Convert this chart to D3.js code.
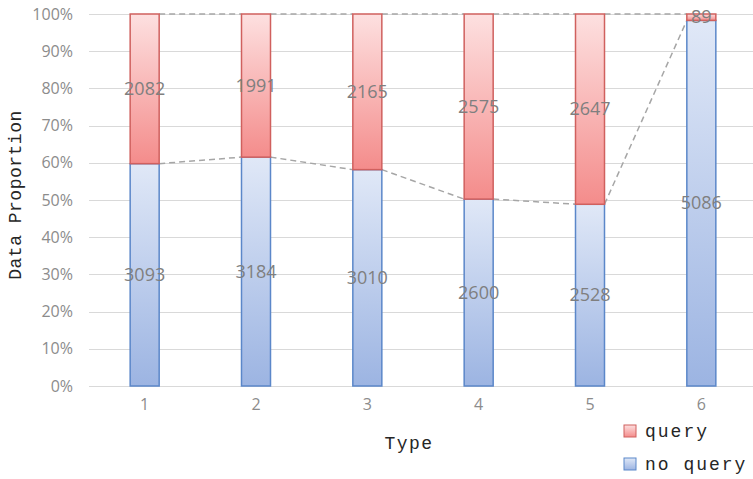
<!DOCTYPE html>
<html>
<head>
<meta charset="utf-8">
<script src="https://cdn.jsdelivr.net/npm/d3@7"></script>
<style>
	body { margin: 0; background: #fff; }
	svg { display: block; }
</style>
</head>
<body>
<svg id="chart" width="753" height="479"></svg>
<script>
// chart values
var types = ["1", "2", "3", "4", "5", "6"];
var noQuery = [3093, 3184, 3010, 2600, 2528, 5086];
var query = [2082, 1991, 2165, 2575, 2647, 89];
var yTicks = [0, 0.1, 0.2, 0.3, 0.4, 0.5, 0.6, 0.7, 0.8, 0.9, 1];
var seriesNames = ["query", "no query"];

var svg = d3.select("#chart");
var monoFont = "'Liberation Mono', 'DejaVu Sans Mono', monospace";
var sansFont = "'Open Sans', 'Liberation Sans', sans-serif";

// build rows with proportions
var rows = types.map(function(t, i) {
	var total = noQuery[i] + query[i];
	return { type: t, noQuery: noQuery[i], query: query[i], pNo: noQuery[i] / total };
});

var x = d3.scaleBand()
	.domain(types)
	.range([89, 757]);
var y = d3.scaleLinear()
	.domain([0, 1])
	.range([386, 14]);
var barW = 29;

// gradients
var defs = svg.append("defs");
function grad(id, top, bottom) {
	var g = defs.append("linearGradient").attr("id", id)
		.attr("x1", 0).attr("y1", 0).attr("x2", 0).attr("y2", 1);
	g.append("stop").attr("offset", "0%").attr("stop-color", top);
	g.append("stop").attr("offset", "100%").attr("stop-color", bottom);
}
grad("gQuery", "#fde0e0", "#f48c8b");
grad("gNo", "#e0e8f7", "#9cb4e2");

// gridlines
svg.append("g")
	.selectAll("line")
	.data(yTicks)
	.enter()
	.append("line")
		.attr("x1", 89)
		.attr("x2", 753)
		.attr("y1", function(d) { return Math.round(y(d)) + 0.5; })
		.attr("y2", function(d) { return Math.round(y(d)) + 0.5; })
		.attr("stroke", "#d9d9d9")
		.attr("stroke-width", 1);

// y axis labels
var yAxis = svg.append("g")
	.attr("transform", "translate(89,0)")
	.call(d3.axisLeft(y).tickValues(yTicks).tickFormat(d3.format(".0%")).tickSize(0).tickPadding(16));
yAxis.select(".domain").remove();
yAxis.selectAll("text")
	.attr("fill", "#8c8c8c")
	.style("font-family", sansFont)
	.style("font-size", "16px");

// x axis labels
var xAxis = svg.append("g")
	.attr("transform", "translate(0,386)")
	.call(d3.axisBottom(x).tickSize(0).tickPadding(13));
xAxis.select(".domain").remove();
xAxis.selectAll("text")
	.attr("fill", "#8c8c8c")
	.style("font-family", sansFont)
	.style("font-size", "16px");

// series lines (dashed)
var lines = svg.append("g")
	.attr("stroke", "#a6a6a6")
	.attr("stroke-width", 1.5)
	.attr("stroke-dasharray", "6,4")
	.attr("fill", "none");
for (var i = 0; i < rows.length - 1; i++) {
	var x1 = x(rows[i].type) + x.bandwidth() / 2 + barW / 2;
	var x2 = x(rows[i + 1].type) + x.bandwidth() / 2 - barW / 2;
	lines.append("line")
		.attr("x1", x1).attr("x2", x2)
		.attr("y1", y(rows[i].pNo)).attr("y2", y(rows[i + 1].pNo));
	lines.append("line")
		.attr("x1", x1).attr("x2", x2)
		.attr("y1", y(1)).attr("y2", y(1));
}

// bars
var bars = svg.append("g");
bars.selectAll("rect.no")
	.data(rows)
	.enter()
	.append("rect")
		.attr("class", "no")
		.attr("x", function(d) { return x(d.type) + x.bandwidth() / 2 - barW / 2; })
		.attr("y", function(d) { return y(d.pNo); })
		.attr("width", barW)
		.attr("height", function(d) { return y(0) - y(d.pNo); })
		.attr("fill", "url(#gNo)")
		.attr("stroke", "#5b87c9")
		.attr("stroke-width", 1.5);
bars.selectAll("rect.q")
	.data(rows)
	.enter()
	.append("rect")
		.attr("class", "q")
		.attr("x", function(d) { return x(d.type) + x.bandwidth() / 2 - barW / 2; })
		.attr("y", y(1))
		.attr("width", barW)
		.attr("height", function(d) { return y(d.pNo) - y(1); })
		.attr("fill", "url(#gQuery)")
		.attr("stroke", "#d0605e")
		.attr("stroke-width", 1.5);

// value labels
var labels = svg.append("g")
	.attr("fill", "#7f7f7f")
	.attr("text-anchor", "middle")
	.style("font-family", sansFont)
	.style("font-size", "18px");
rows.forEach(function(d) {
	var cx = x(d.type) + x.bandwidth() / 2;
	labels.append("text")
		.attr("x", cx)
		.attr("y", (y(0) + y(d.pNo)) / 2)
		.attr("dy", "0.35em")
		.text(d.noQuery);
	labels.append("text")
		.attr("x", cx)
		.attr("y", (y(1) + y(d.pNo)) / 2)
		.attr("dy", "0.35em")
		.text(d.query);
});

// axis titles
svg.append("text")
	.attr("transform", "translate(21,195) rotate(-90)")
	.attr("text-anchor", "middle")
	.attr("fill", "#262626")
	.style("font-family", monoFont)
	.style("font-size", "18px")
	.style("letter-spacing", "0.5px")
	.text("Data Proportion");
svg.append("text")
	.attr("x", 409)
	.attr("y", 449)
	.attr("text-anchor", "middle")
	.attr("fill", "#262626")
	.style("font-family", monoFont)
	.style("font-size", "18px")
	.style("letter-spacing", "1.5px")
	.text("Type");

// legend
var legend = svg.append("g");
var legendFills = ["url(#gQuery)", "url(#gNo)"];
var legendStrokes = ["#d0605e", "#5b87c9"];
seriesNames.forEach(function(name, i) {
	var ly = 425 + i * 33;
	legend.append("rect")
		.attr("x", 624).attr("y", ly)
		.attr("width", 12).attr("height", 12)
		.attr("fill", legendFills[i])
		.attr("stroke", legendStrokes[i]);
	legend.append("text")
		.attr("x", 645).attr("y", ly + 6)
		.attr("dy", "0.35em")
		.attr("fill", "#262626")
		.style("font-family", monoFont)
		.style("font-size", "18px")
		.style("letter-spacing", "2px")
		.text(name);
});
</script>
</body>
</html>
